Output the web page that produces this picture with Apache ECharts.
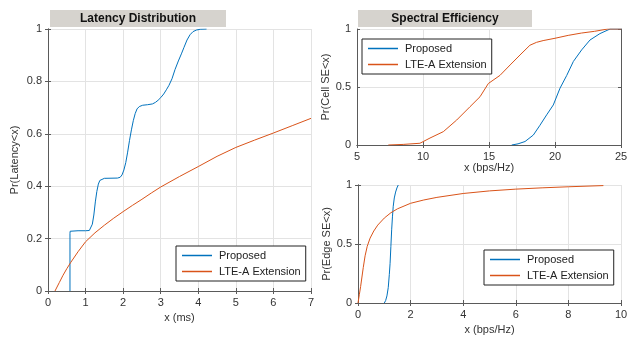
<!DOCTYPE html>
<html><head><meta charset="utf-8">
<script src="https://cdn.jsdelivr.net/npm/echarts@6/dist/echarts.min.js"></script>
<style>html,body{margin:0;padding:0;background:#fff}#c{width:637px;height:338px}</style>
</head><body><div id="c"></div>
<script>
// Latency distribution (x in ms, y = CDF)
const latProposed = [[0.585,0],[0.585,0.22],[0.59,0.228],[0.61,0.23],[0.8,0.23],[1.0,0.23],[1.1,0.231],[1.14,0.235],[1.18,0.255],[1.22,0.29],[1.26,0.34],[1.3,0.38],[1.34,0.408],[1.38,0.422],[1.43,0.428],[1.5,0.43],[1.85,0.431],[1.92,0.434],[1.97,0.443],[2.02,0.462],[2.07,0.49],[2.12,0.53],[2.17,0.575],[2.22,0.615],[2.27,0.65],[2.32,0.677],[2.37,0.695],[2.43,0.704],[2.52,0.709],[2.65,0.711],[2.78,0.714],[2.86,0.72],[2.93,0.728],[3.0,0.738],[3.08,0.752],[3.15,0.768],[3.22,0.785],[3.3,0.81],[3.38,0.845],[3.47,0.878],[3.55,0.905],[3.62,0.93],[3.7,0.958],[3.78,0.978],[3.86,0.99],[3.95,0.996],[4.05,0.999],[4.22,1.0]];
const latLTE = [[0.186,0],[0.3,0.032],[0.4,0.06],[0.5,0.085],[0.6,0.108],[0.8,0.15],[1.0,0.188],[1.25,0.222],[1.5,0.251],[1.75,0.278],[2.0,0.303],[2.25,0.327],[2.5,0.35],[2.75,0.374],[3.0,0.397],[3.5,0.437],[4.0,0.475],[4.5,0.514],[5.0,0.548],[5.5,0.576],[6.0,0.603],[6.5,0.631],[7.0,0.659]];
// Cell spectral efficiency (bps/Hz)
const cellProposed = [[16.72,0],[17.2,0.01],[17.73,0.03],[18.36,0.086],[18.86,0.17],[19.37,0.26],[19.87,0.345],[20.38,0.49],[20.89,0.60],[21.39,0.72],[22.02,0.82],[22.65,0.905],[23.4,0.96],[24.17,1.0],[25,1.0]];
const cellLTE = [[7.37,0],[8.5,0.005],[9.77,0.015],[10.53,0.06],[11.54,0.115],[12.55,0.215],[13.56,0.33],[14.32,0.416],[14.95,0.53],[15.83,0.60],[16.6,0.69],[17.35,0.776],[18.1,0.86],[18.6,0.885],[19.1,0.90],[20.0,0.92],[21.0,0.945],[22.0,0.965],[23.0,0.98],[24.0,1.0],[25,1.0]];
// Edge spectral efficiency (bps/Hz)
const edgeProposed = [[1.0,0],[1.05,0.02],[1.1,0.06],[1.15,0.13],[1.19,0.24],[1.22,0.336],[1.25,0.48],[1.28,0.62],[1.31,0.73],[1.34,0.82],[1.38,0.89],[1.43,0.94],[1.48,0.975],[1.53,1.0]];
const edgeLTE = [[0.0,0],[0.05,0.07],[0.1,0.14],[0.15,0.22],[0.2,0.3],[0.27,0.4],[0.35,0.48],[0.46,0.55],[0.6,0.61],[0.75,0.66],[1.0,0.72],[1.25,0.765],[1.5,0.798],[2.0,0.845],[2.5,0.873],[3.0,0.895],[4.0,0.928],[5.0,0.95],[6.0,0.965],[7.0,0.976],[8.0,0.985],[9.33,0.995]];
const seriesNames = ['Proposed','LTE-A Extension'];
const panelTitles = ['Latency Distribution','Spectral Efficiency'];

const BLUE='#0072BD', ORANGE='#D95319';
const FONT='Liberation Sans, Arial, sans-serif';
const axisCol='#5a5a5a', gridCol='#e3e3e3', txt='#333';

const grids=[
  {left:48,top:29,width:263,height:262},
  {left:357,top:29,width:264,height:116},
  {left:358,top:185,width:263,height:118}
];
const xs=[{min:0,max:7,interval:1,name:'x (ms)'},{min:5,max:25,interval:5,name:'x (bps/Hz)'},{min:0,max:10,interval:2,name:'x (bps/Hz)'}];
const ys=[{interval:0.2,name:'Pr(Latency<x)'},{interval:0.5,name:'Pr(Cell SE<x)'},{interval:0.5,name:'Pr(Edge SE<x)'}];

const xAxis=[],yAxis=[];
xs.forEach((a,i)=>{
  xAxis.push({type:'value',gridIndex:i,min:a.min,max:a.max,interval:a.interval,position:'bottom',
    name:a.name,nameLocation:'middle',nameGap:i===1?17:21,nameTextStyle:{color:txt,fontSize:11,fontFamily:FONT},
    axisLine:{show:true,lineStyle:{color:axisCol}},axisTick:{show:true,inside:true,length:3,lineStyle:{color:axisCol}},
    axisLabel:{color:txt,fontSize:11,fontFamily:FONT,margin:6},splitLine:{show:true,lineStyle:{color:gridCol}}});
  xAxis.push({type:'value',gridIndex:i,min:a.min,max:a.max,interval:a.interval,position:'top',
    axisLine:{show:true,lineStyle:{color:axisCol}},axisTick:{show:true,inside:true,length:3,lineStyle:{color:axisCol}},
    axisLabel:{show:false},splitLine:{show:false}});
});
ys.forEach((a,i)=>{
  yAxis.push({type:'value',gridIndex:i,min:0,max:1,interval:a.interval,position:'left',
    name:a.name,nameLocation:'middle',nameGap:i===0?28:22,nameTextStyle:{color:txt,fontSize:11,fontFamily:FONT},
    axisLine:{show:true,lineStyle:{color:axisCol}},axisTick:{show:true,inside:true,length:3,lineStyle:{color:axisCol}},
    axisLabel:{color:txt,fontSize:11,fontFamily:FONT,margin:6},splitLine:{show:true,lineStyle:{color:gridCol}}});
  yAxis.push({type:'value',gridIndex:i,min:0,max:1,interval:a.interval,position:'right',
    axisLine:{show:true,lineStyle:{color:axisCol}},axisTick:{show:true,inside:true,length:3,lineStyle:{color:axisCol}},
    axisLabel:{show:false},splitLine:{show:false}});
});

function ser(name,data,g,color){
  return {type:'line',name:name,data:data,xAxisIndex:g*2,yAxisIndex:g*2,symbol:'none',
    smooth:false,
    lineStyle:{color:color,width:1},itemStyle:{color:color},animation:false,z:3};
}
const series=[
  ser(seriesNames[0],latProposed,0,BLUE),ser(seriesNames[1],latLTE,0,ORANGE),
  ser(seriesNames[0],cellProposed,1,BLUE),ser(seriesNames[1],cellLTE,1,ORANGE),
  ser(seriesNames[0],edgeProposed,2,BLUE),ser(seriesNames[1],edgeLTE,2,ORANGE)
];
function legend(left,top){
  return {data:seriesNames,left:left,top:top,orient:'vertical',itemWidth:30,itemHeight:1.5,itemGap:5,
    icon:'rect',backgroundColor:'#fff',borderColor:'#222',borderWidth:1,padding:[4,5,4,6],
    selectedMode:false,textStyle:{color:'#222',fontSize:11,fontFamily:FONT,padding:[0,0,0,2]},z:10};
}
const titleBars=[{x:50,y:10,w:176,text:panelTitles[0]},{x:358,y:10,w:174,text:panelTitles[1]}];
const graphic=[];
titleBars.forEach(t=>{
  graphic.push({type:'rect',x:t.x,y:t.y,shape:{width:t.w,height:17},style:{fill:'#d6d3ce'},z:5});
  graphic.push({type:'text',x:t.x+t.w/2,y:t.y+8.5,style:{text:t.text,fill:'#111',font:'bold 12px '+FONT,align:'center',verticalAlign:'middle'},z:6});
});

const chart=echarts.init(document.getElementById('c'),null,{renderer:'canvas'});
chart.setOption({
  animation:false,backgroundColor:'#fff',
  grid:grids,xAxis:xAxis,yAxis:yAxis,series:series,
  legend:[legend(176,246),legend(362,39),legend(484,250)],
  graphic:graphic
});
</script></body></html>
